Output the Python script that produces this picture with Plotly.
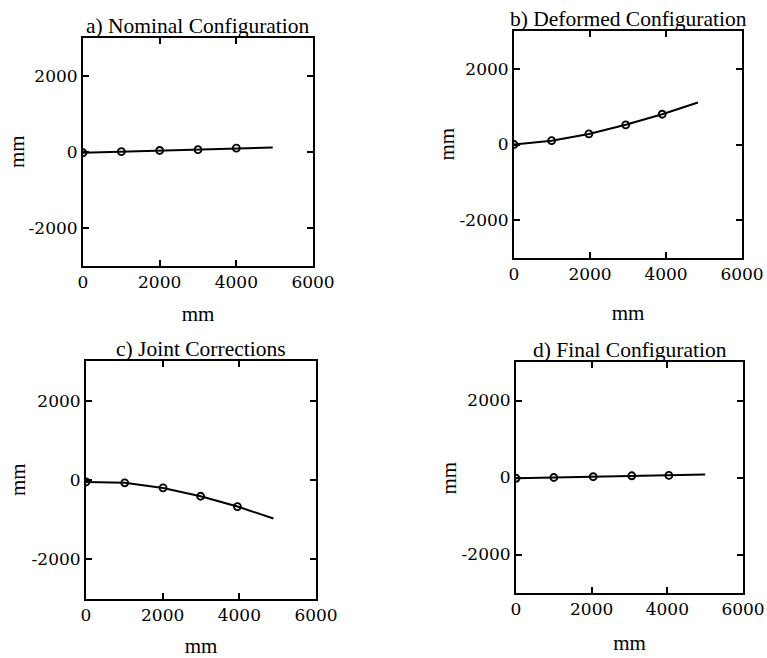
import plotly.graph_objects as go

# ---- data ----
titles = ["a) Nominal Configuration", "b) Deformed Configuration",
          "c) Joint Corrections", "d) Final Configuration"]

nominal_x = [0, 1000, 2000, 3000, 4000, 4950]
nominal_y = [-20, 10, 40, 60, 100, 120]

deformed_x = [0, 990, 1970, 2940, 3900, 4840]
deformed_y = [0, 100, 280, 520, 800, 1110]

corrections_x = [0, 1010, 2010, 2990, 3950, 4890]
corrections_y = [-50, -70, -200, -410, -670, -970]

final_x = [0, 1000, 2040, 3060, 4040, 5000]
final_y = [-20, 0, 20, 45, 55, 80]

x_ticks = [0, 2000, 4000, 6000]
y_ticks = [-2000, 0, 2000]
axis_label = "mm"

series = [(nominal_x, nominal_y), (deformed_x, deformed_y),
          (corrections_x, corrections_y), (final_x, final_y)]

# ---- layout ----
FW, FH = 767, 658
# panel plot-area boxes in screen pixels: (left, right, top, bottom)
boxes = [(83, 313, 38, 266), (514, 742, 31, 258),
         (86, 316, 361, 599), (516, 743, 362, 593)]
xtitle_standoff = [15, 22, 24, 17]
ytitle_x = [17, 446, 18, 448]

TITLE_FONT = "Liberation Serif, Times New Roman, serif"
TICK_FONT = "DejaVu Serif, serif"
BLACK = "black"


def fx(px):
    return px / FW


def fy(py):
    return 1 - py / FH


fig = go.Figure()
layout = dict(width=FW, height=FH, margin=dict(l=0, r=0, t=0, b=0, autoexpand=False),
              paper_bgcolor="white", plot_bgcolor="white",
              showlegend=False, font=dict(family=TITLE_FONT, size=21, color=BLACK),
              annotations=[])

for i, ((xs, ys), (x0, x1, y0, y1), title) in enumerate(zip(series, boxes, titles)):
    n = "" if i == 0 else str(i + 1)
    xa, ya = "x" + n, "y" + n
    fig.add_trace(go.Scatter(x=xs, y=ys, mode="lines", xaxis=xa, yaxis=ya,
                             line=dict(color=BLACK, width=2), hoverinfo="skip"))
    fig.add_trace(go.Scatter(x=xs[:-1], y=ys[:-1], mode="markers", xaxis=xa, yaxis=ya,
                             marker=dict(symbol="circle-open", size=7, color=BLACK,
                                         line=dict(width=1.8, color=BLACK))))
    common = dict(showline=True, linecolor=BLACK, linewidth=2, mirror="ticks",
                  ticks="inside", ticklen=6, tickwidth=1.5, tickcolor=BLACK,
                  showgrid=False, zeroline=False, automargin=False,
                  tickfont=dict(family=TICK_FONT, size=17, color=BLACK))
    layout["xaxis" + n] = dict(common, domain=[fx(x0), fx(x1)], anchor=ya,
                               range=[0, 6000], tickvals=x_ticks,
                               ticktext=[str(v) for v in x_ticks],
                               ticklabelstandoff=0,
                               title=dict(text=axis_label, standoff=xtitle_standoff[i],
                                          font=dict(family=TITLE_FONT, size=21, color=BLACK)))
    layout["yaxis" + n] = dict(common, domain=[fy(y1), fy(y0)], anchor=xa,
                               range=[-3000, 3000], tickvals=y_ticks,
                               ticktext=[str(v) for v in y_ticks],
                               ticklabelstandoff=0)
    # y-axis title as a rotated annotation for exact placement
    layout["annotations"].append(dict(text=axis_label, xref="paper", yref="paper",
                                      x=fx(ytitle_x[i]), y=fy((y0 + y1) / 2),
                                      xanchor="center", yanchor="middle", textangle=-90,
                                      showarrow=False,
                                      font=dict(family=TITLE_FONT, size=21, color=BLACK)))
    layout["annotations"].append(dict(text=title, xref="paper", yref="paper",
                                      x=fx((x0 + x1) / 2), y=fy(y0),
                                      xanchor="center", yanchor="bottom", yshift=-2,
                                      showarrow=False,
                                      font=dict(family=TITLE_FONT, size=21.5, color=BLACK)))

fig.update_layout(**layout)
fig.write_html("out.html",
               config={"displayModeBar": False},
               post_script="document.body.style.margin='0';"
                           "document.body.style.overflow='hidden';")
